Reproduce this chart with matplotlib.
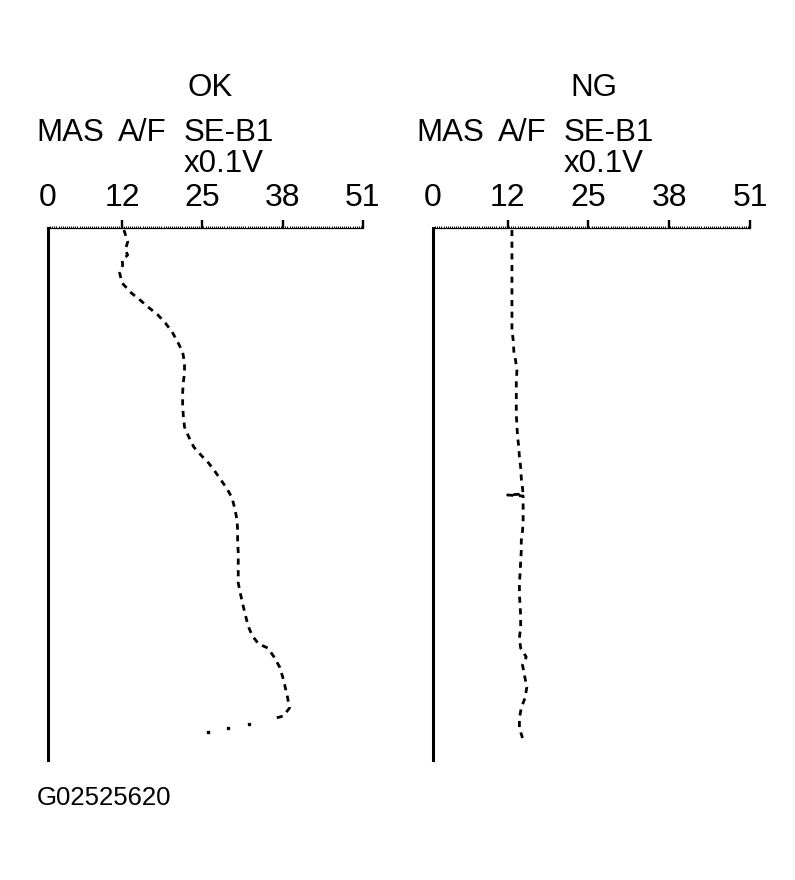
import matplotlib
matplotlib.use("Agg")
import matplotlib.pyplot as plt
from matplotlib.ticker import MultipleLocator

plt.rcParams['font.family'] = ['Liberation Sans', 'DejaVu Sans']

# ---- data ----
tick_vals = [0, 12, 25, 38, 51]
tick_labels = ["0", "12", "25", "38", "51"]
panel_titles = ["OK", "NG"]
header_names = ["MAS", "A/F", "SE-B1"]
unit_label = "x0.1V"
figure_code = "G02525620"

# OK panel: SE-B1 value (x0.1V) vs time (arbitrary units, downward)
ok_time = [2, 14, 22, 27, 32, 37, 45, 55, 65, 72, 80, 87, 95, 104, 114, 124,
           135, 145, 155, 165, 177, 187, 199, 209, 219, 228, 235, 244, 252, 259,
           262, 270, 282, 292, 302, 314, 324, 334, 344, 355, 367, 378, 388, 398,
           408, 416, 420, 429, 439, 449, 459, 470, 480, 488, 491]
ok_vals = [12.3, 12.9, 12.5, 12.9, 12.0, 12.1, 11.6, 12.0, 13.5, 14.9, 16.4, 17.8,
           19.0, 20.1, 21.0, 21.8, 22.1, 22.1, 21.9, 21.8, 21.8, 21.9, 22.1, 22.8,
           23.6, 24.9, 26.0, 27.1, 28.0, 28.8, 29.1, 29.8, 30.3, 30.6, 30.7, 30.7,
           30.8, 30.8, 30.8, 30.8, 31.2, 31.6, 32.0, 32.4, 33.1, 34.1, 35.6, 36.6,
           37.5, 38.0, 38.4, 38.8, 39.1, 38.1, 36.3]
ok_tail_time = [496, 500, 504]
ok_tail_vals = [32.6, 29.2, 25.9]

# NG panel
ng_time = [2, 61, 102, 112, 123, 133, 143, 153, 164, 186, 198, 208, 219, 229, 239,
           250, 260, 266, 267, 268, 280, 293, 303, 313, 323, 334, 346, 356, 366,
           377, 387, 399, 410, 420, 429, 437, 447, 459, 470, 480, 490, 500, 510]
ng_vals = [12.7, 12.7, 12.7, 12.9, 13.0, 13.3, 13.5, 13.4, 13.4, 13.4, 13.5, 13.6,
           13.8, 13.9, 14.1, 14.2, 14.4, 14.5, 12.0, 14.5, 14.5, 14.5, 14.4, 14.2,
           14.2, 14.1, 14.0, 13.9, 13.9, 14.0, 14.1, 14.1, 13.9, 14.1, 15.0, 14.4,
           14.7, 15.1, 14.8, 14.2, 13.9, 13.9, 14.4]

W, H = 795, 880
fig = plt.figure(figsize=(W / 100, H / 100), dpi=100)
fig.patch.set_facecolor("white")

def px(x, y):
    return x / W, 1 - y / H

ax_top, ax_bot = 228, 760
panels = [(48, 363), (433, 750)]
axes = []
for (l, r) in panels:
    ax = fig.add_axes([l / W, 1 - ax_bot / H, (r - l) / W, (ax_bot - ax_top) / H])
    ax.set_xlim(0, 51)
    ax.set_ylim(532, 0)
    for s in ("right", "bottom"):
        ax.spines[s].set_visible(False)
    ax.spines["top"].set_linewidth(0.9)
    ax.spines["left"].set_linewidth(2.2)
    ax.xaxis.tick_top()
    ax.set_xticks(tick_vals)
    ax.set_xticklabels(tick_labels, fontsize=23)
    ax.xaxis.set_minor_locator(MultipleLocator(0.34))
    ax.tick_params(axis="x", which="major", direction="out", length=6, width=1.7,
                   pad=5, top=True, bottom=False)
    ax.tick_params(axis="x", which="minor", direction="out", length=1.8, width=0.7,
                   top=True, bottom=False)
    ax.xaxis.get_major_ticks()[0].tick2line.set_visible(False)
    ax.set_yticks([])
    axes.append(ax)

dash = (0, (2.2, 2.0))
axes[0].plot(ok_vals, ok_time, color="black", lw=2.0, linestyle=dash)
axes[0].plot(ok_tail_vals, ok_tail_time, linestyle="none", marker="s",
             ms=1.6, color="black")
axes[1].plot(ng_vals, ng_time, color="black", lw=2.0, linestyle=dash)

# header texts
fs = 22.5
for i, (l, r) in enumerate(panels):
    off = 0 if i == 0 else 380
    fig.text(*px(210 if i == 0 else 594, 88), panel_titles[i], fontsize=fs,
             ha="center", va="center")
    fig.text(*px(36 + off, 133), header_names[0], fontsize=fs, ha="left", va="center")
    fig.text(*px(118 + off, 133), header_names[1], fontsize=fs, ha="left", va="center")
    fig.text(*px(184 + off, 133), header_names[2], fontsize=fs, ha="left", va="center")
    fig.text(*px(184 + off, 164), unit_label, fontsize=fs, ha="left", va="center")

fig.text(*px(37, 798), figure_code, fontsize=18.5, ha="left", va="center")

fig.savefig("out.png", dpi=100, facecolor="white")
